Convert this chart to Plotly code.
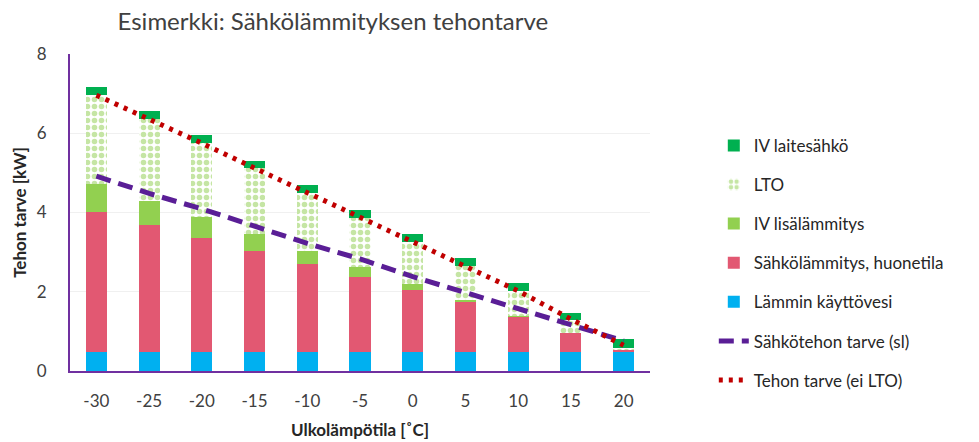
import plotly.graph_objects as go

temps = ["-30", "-25", "-20", "-15", "-10", "-5", "0", "5", "10", "15", "20"]
kayttovesi = [0.48, 0.48, 0.48, 0.48, 0.48, 0.48, 0.48, 0.48, 0.48, 0.48, 0.48]
huonetila = [3.53, 3.21, 2.87, 2.55, 2.22, 1.90, 1.57, 1.25, 0.89, 0.47, 0.07]
iv_lisa = [0.70, 0.60, 0.54, 0.43, 0.33, 0.25, 0.14, 0.06, 0.02, 0.0, 0.0]
lto = [2.25, 2.07, 1.86, 1.66, 1.47, 1.24, 1.07, 0.86, 0.63, 0.34, 0.04]
iv_laite = [0.21, 0.19, 0.20, 0.19, 0.19, 0.20, 0.19, 0.19, 0.19, 0.18, 0.21]
sahkoteho_sl = [4.92, 4.48, 4.09, 3.65, 3.22, 2.83, 2.38, 1.98, 1.58, 1.15, 0.76]
teho_ei_lto = [6.96, 6.36, 5.75, 5.12, 4.50, 3.87, 3.26, 2.65, 2.02, 1.31, 0.65]

FONT = "Lato"
fig = go.Figure()

fig.add_trace(go.Bar(x=temps, y=kayttovesi, name="Lämmin käyttövesi", legendgroup="g5",
                     marker=dict(color="#00B0F0", line=dict(width=0)), legendrank=5))
fig.add_trace(go.Bar(x=temps, y=huonetila, name="Sähkölämmitys, huonetila", legendgroup="g4",
                     marker=dict(color="#E25872", line=dict(width=0)), legendrank=4))
fig.add_trace(go.Bar(x=temps, y=iv_lisa, name="IV lisälämmitys", legendgroup="g3",
                     marker=dict(color="#92D050", line=dict(width=0)), legendrank=3))
fig.add_trace(go.Bar(x=temps, y=lto, name="LTO", legendgroup="g2",
                     marker=dict(color="white", line=dict(width=0),
                                 pattern=dict(shape=".", fgcolor="#8CCB4A", bgcolor="white",
                                              size=7, solidity=0.5, fillmode="overlay")),
                     legendrank=2))
fig.add_trace(go.Bar(x=temps, y=iv_laite, name="IV laitesähkö", legendgroup="g1",
                     marker=dict(color="#00B050", line=dict(width=0)), legendrank=1))

fig.add_trace(go.Scatter(x=temps, y=sahkoteho_sl, name="Sähkötehon tarve (sl)", mode="lines",
                         legendgroup="g6",
                         line=dict(color="#5A1E96", width=5, dash="15px,8px"), legendrank=6))
fig.add_trace(go.Scatter(x=temps, y=teho_ei_lto, name="Tehon tarve (ei LTO)", mode="lines",
                         legendgroup="g7",
                         line=dict(color="#C00000", width=5, dash="4px,6px"), legendrank=7))

fig.update_layout(
    width=979, height=442,
    barmode="stack", bargap=0.6,
    margin=dict(l=70, r=329, t=54, b=71, autoexpand=False),
    paper_bgcolor="white", plot_bgcolor="white",
    font=dict(family=FONT, color="#404040", size=17),
    title=dict(text="Esimerkki: Sähkölämmityksen tehontarve", x=0.34, xanchor="center",
               y=0.952, yanchor="middle", font=dict(family=FONT, size=24, color="#404040")),
    legend=dict(x=1.11, xanchor="left", y=0.767, yanchor="top",
                traceorder="grouped",
                font=dict(family=FONT, size=17, color="#262626"),
                tracegroupgap=14, bgcolor="rgba(0,0,0,0)"),
    showlegend=True,
)
fig.update_xaxes(type="category", showline=True, linecolor="#7030A0", linewidth=2,
                 automargin=False,
                 ticks="outside", ticklen=14, tickcolor="rgba(0,0,0,0)",
                 tickfont=dict(size=17, color="#404040"),
                 title=dict(text="<b>Ulkolämpötila [˚C]</b>", font=dict(size=17, color="#262626"),
                            standoff=14))
fig.update_yaxes(range=[0, 8], dtick=2, showline=True, linecolor="#7030A0", linewidth=2,
                 gridcolor="#F0F0F0", gridwidth=1, zeroline=False, automargin=False,
                 ticks="outside", ticklen=18, tickcolor="rgba(0,0,0,0)",
                 tickfont=dict(size=17, color="#404040"),
                 title=dict(text="<b>Tehon tarve [kW]</b>", font=dict(size=17, color="#262626"),
                            standoff=6))

fig.write_html("out.html", config={"displayModeBar": False},
               post_script="document.body.style.margin='0';")
